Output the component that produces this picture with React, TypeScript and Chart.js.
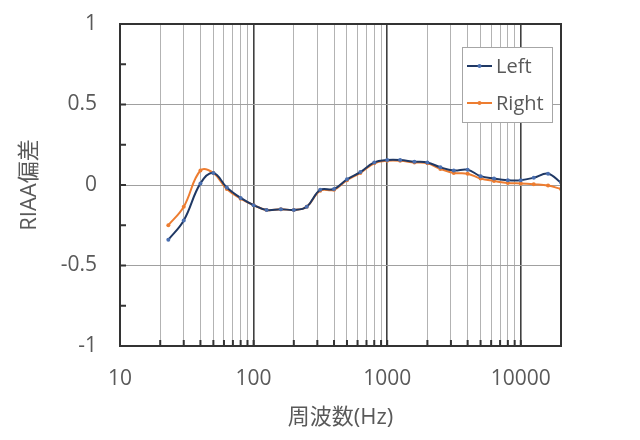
import React, { useEffect, useRef } from "react";
import { Chart, registerables } from "chart.js";

Chart.register(...registerables);

// ---- data ----
const FREQS = [23, 30, 40, 50, 63, 80, 100, 125, 160, 200, 250, 315, 400, 500, 630, 800, 1000, 1250, 1600, 2000, 2500, 3150, 4000, 5000, 6300, 8000, 10000, 12500, 16000, 20000];
const LEFT = [-0.34, -0.22, 0.01, 0.075, -0.015, -0.08, -0.125, -0.155, -0.15, -0.155, -0.135, -0.03, -0.025, 0.035, 0.08, 0.14, 0.155, 0.155, 0.145, 0.14, 0.11, 0.09, 0.095, 0.055, 0.04, 0.03, 0.03, 0.045, 0.07, 0.015];
const RIGHT = [-0.25, -0.135, 0.09, 0.075, -0.025, -0.085, -0.125, -0.155, -0.15, -0.155, -0.135, -0.035, -0.03, 0.03, 0.075, 0.135, 0.15, 0.15, 0.14, 0.135, 0.1, 0.075, 0.07, 0.04, 0.025, 0.012, 0.01, 0.005, -0.003, -0.025];
const SERIES_NAMES = ["Left", "Right"];
const DECADE_LABELS = [10, 100, 1000, 10000];
const Y_TICKS = [-1, -0.5, 0, 0.5, 1];
const Y_MINOR_TICKS = [-0.75, -0.5, -0.25, 0, 0.25, 0.5, 0.75];
const X_MIN = 10;
const X_MAX = 20000;
const X_TITLE = "周波数(Hz)";
const Y_TITLE = "RIAA偏差";

const FONT = "'Open Sans', 'Noto Sans CJK JP', sans-serif";
const TEXT = "#595959";
const DARK = "#333333";

function gridValues(): number[] {
  const out: number[] = [];
  for (let e = 1; e <= 4; e++) {
    for (let s = 1; s <= 9; s++) {
      const v = s * Math.pow(10, e);
      if (v >= X_MIN && v <= X_MAX) out.push(v);
    }
  }
  return out;
}
const GRID_X = gridValues();

const isDecade = (v: number) => DECADE_LABELS.includes(Math.round(v));

const framePlugin = {
  id: "frame",
  afterDatasetsDraw(chart: any) {
    const { ctx, chartArea, scales } = chart;
    const { left, top, right, bottom } = chartArea;
    ctx.save();
    ctx.strokeStyle = DARK;
    ctx.lineWidth = 2;
    ctx.strokeRect(left, top, right - left, bottom - top);
    ctx.lineWidth = 2;
    ctx.beginPath();
    GRID_X.forEach((v) => {
      const x = scales.x.getPixelForValue(v);
      ctx.moveTo(x, bottom);
      ctx.lineTo(x, bottom - 6);
    });
    Y_MINOR_TICKS.forEach((v) => {
      const y = scales.y.getPixelForValue(v);
      ctx.moveTo(left, y);
      ctx.lineTo(left + 6, y);
    });
    ctx.stroke();
    ctx.restore();
  },
};

const legendPlugin = {
  id: "boxLegend",
  afterDraw(chart: any) {
    const { ctx, chartArea } = chart;
    const x0 = chartArea.right - 99;
    const y0 = chartArea.top + 23;
    const w = 90;
    const h = 75;
    ctx.save();
    ctx.fillStyle = "#ffffff";
    ctx.fillRect(x0, y0, w, h);
    ctx.strokeStyle = "#a6a6a6";
    ctx.lineWidth = 1;
    ctx.strokeRect(x0 + 0.5, y0 + 0.5, w, h);
    chart.data.datasets.forEach((ds: any, i: number) => {
      const y = y0 + 19 + i * 37;
      ctx.strokeStyle = ds.borderColor;
      ctx.lineWidth = 2;
      ctx.beginPath();
      ctx.moveTo(x0 + 5, y);
      ctx.lineTo(x0 + 30, y);
      ctx.stroke();
      ctx.fillStyle = ds.pointBackgroundColor;
      ctx.beginPath();
      ctx.arc(x0 + 17.5, y, 2, 0, Math.PI * 2);
      ctx.fill();
      ctx.fillStyle = TEXT;
      ctx.font = `20px ${FONT}`;
      ctx.textBaseline = "middle";
      ctx.textAlign = "left";
      ctx.fillText(ds.label, x0 + 34, y + 1);
    });
    ctx.restore();
  },
};

export default function App() {
  const ref = useRef<HTMLCanvasElement>(null);

  useEffect(() => {
    if (!ref.current) return;
    const chart = new Chart(ref.current, {
      type: "line",
      data: {
        datasets: [
          {
            label: SERIES_NAMES[0],
            data: FREQS.map((f, i) => ({ x: f, y: LEFT[i] })),
            borderColor: "#1f3864",
            pointBackgroundColor: "#4a6fb0",
            pointBorderWidth: 0,
            pointRadius: 2,
            borderWidth: 2,
            tension: 0.4,
          },
          {
            label: SERIES_NAMES[1],
            data: FREQS.map((f, i) => ({ x: f, y: RIGHT[i] })),
            borderColor: "#ed7d31",
            pointBackgroundColor: "#ed7d31",
            pointBorderWidth: 0,
            pointRadius: 2,
            borderWidth: 2,
            tension: 0.4,
          },
        ] as any,
      },
      options: {
        animation: false,
        responsive: true,
        maintainAspectRatio: false,
        layout: { padding: { top: 24, right: 79, left: 0, bottom: 0 } },
        plugins: { legend: { display: false }, tooltip: { enabled: false } },
        scales: {
          x: {
            type: "logarithmic",
            min: X_MIN,
            max: X_MAX,
            afterBuildTicks(s: any) {
              s.ticks = GRID_X.map((v) => ({ value: v }));
            },
            afterFit(s: any) {
              s.height = 94;
            },
            ticks: {
              autoSkip: false,
              maxRotation: 0,
              padding: 20,
              color: TEXT,
              font: { size: 21, family: FONT },
              callback: (v: any) => (isDecade(Number(v)) ? String(Math.round(Number(v))) : ""),
            },
            grid: {
              drawTicks: false,
              color: (c: any) => (isDecade(c.tick.value) ? "#404040" : "#b3b3b3"),
              lineWidth: (c: any) => (isDecade(c.tick.value) ? 1.6 : 1),
            },
            border: { display: false },
            title: {
              display: true,
              text: X_TITLE,
              color: TEXT,
              font: { size: 22, family: FONT },
              padding: { top: 0, bottom: 9 },
            },
          },
          y: {
            min: -1,
            max: 1,
            afterBuildTicks(s: any) {
              s.ticks = Y_TICKS.map((v) => ({ value: v }));
            },
            afterFit(s: any) {
              s.width = 120;
            },
            ticks: {
              padding: 0,
              color: TEXT,
              font: { size: 21, family: FONT },
              callback: (v: any) => String(Number(v)),
            },
            grid: {
              drawTicks: true,
              tickLength: 23,
              tickColor: "rgba(0,0,0,0)",
              color: "#a0a0a0",
              lineWidth: 1,
            },
            border: { display: false },
            title: {
              display: true,
              text: Y_TITLE,
              color: TEXT,
              font: { size: 22, family: FONT },
              padding: { top: 17, bottom: 0 },
            },
          },
        },
      } as any,
      plugins: [framePlugin, legendPlugin],
    });
    return () => chart.destroy();
  }, []);

  return (
    <div style={{ position: "absolute", left: 0, top: 0, width: 640, height: 440 }}>
      <canvas ref={ref} />
    </div>
  );
}
